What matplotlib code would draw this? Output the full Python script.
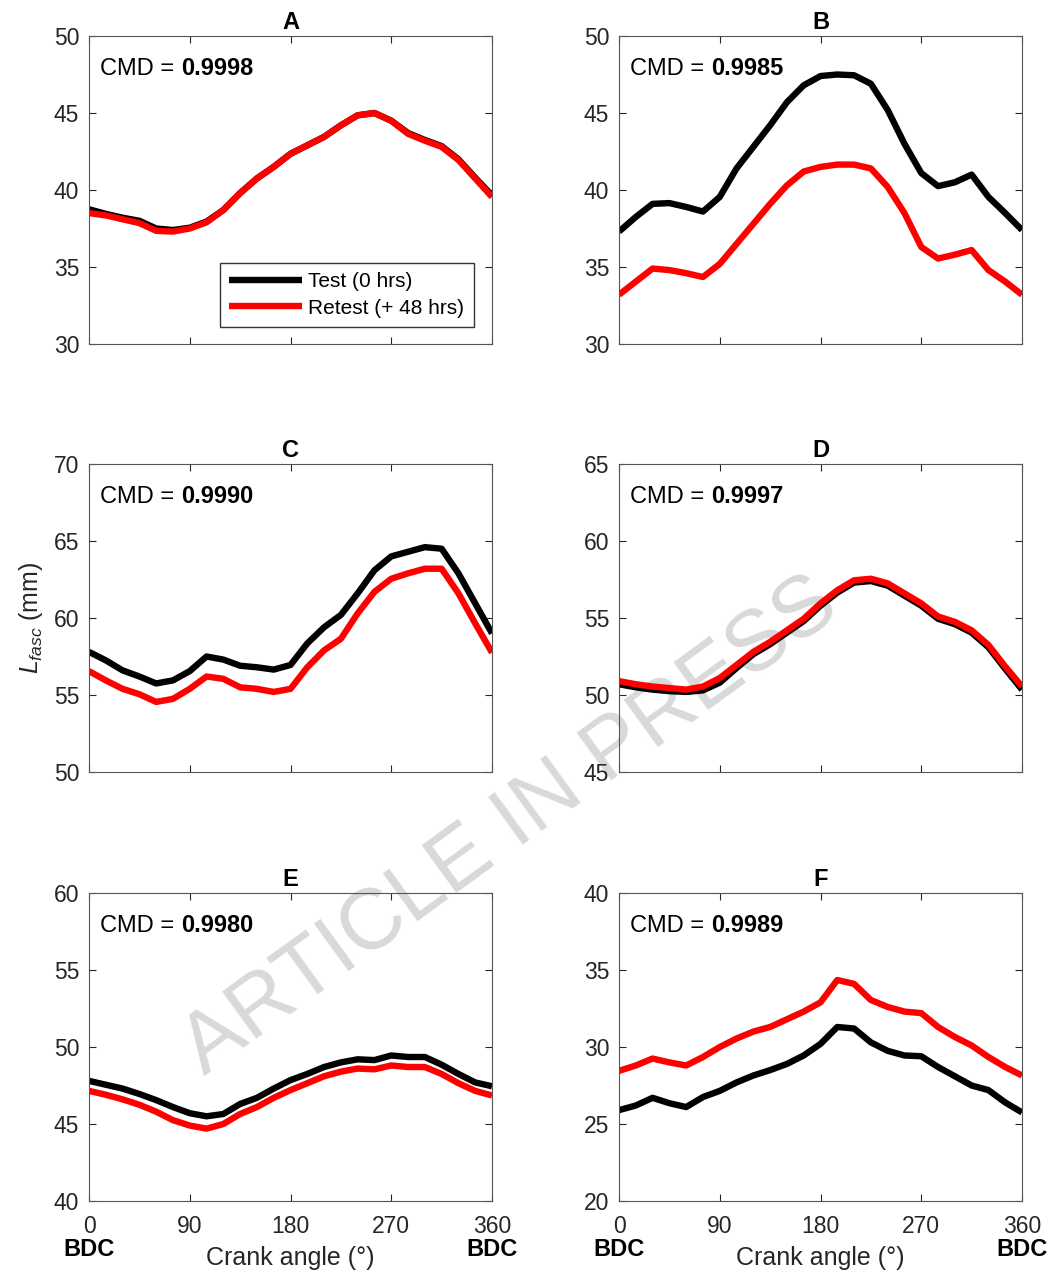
import matplotlib
matplotlib.use('Agg')
import matplotlib.pyplot as plt
import matplotlib.transforms as mtransforms

plt.rcParams['font.family'] = ['Liberation Sans', 'DejaVu Sans']
plt.rcParams['mathtext.fontset'] = 'custom'
plt.rcParams['mathtext.rm'] = 'Liberation Sans'
plt.rcParams['mathtext.it'] = 'Liberation Sans:italic'

# crank angle samples (deg)
angle = list(range(0, 361, 15))

# panel A
a_test = [38.75, 38.45, 38.2, 38.0, 37.5, 37.4, 37.55, 37.95, 38.7, 39.8, 40.75, 41.5, 42.35,
          42.9, 43.45, 44.2, 44.85, 45.0, 44.5, 43.7, 43.25, 42.85, 42.0, 40.8, 39.65]
a_retest = [38.5, 38.35, 38.1, 37.85, 37.35, 37.3, 37.5, 37.9, 38.7, 39.8, 40.75, 41.5, 42.35,
            42.9, 43.45, 44.2, 44.85, 45.0, 44.5, 43.65, 43.2, 42.8, 41.95, 40.75, 39.55]
# panel B
b_test = [37.3, 38.25, 39.1, 39.15, 38.9, 38.6, 39.55, 41.4, 42.8, 44.2, 45.7, 46.8, 47.4,
          47.5, 47.45, 46.9, 45.2, 43.0, 41.1, 40.25, 40.5, 41.0, 39.55, 38.5, 37.4]
b_retest = [33.2, 34.05, 34.9, 34.8, 34.6, 34.35, 35.2, 36.5, 37.8, 39.1, 40.3, 41.2, 41.5,
            41.65, 41.65, 41.4, 40.2, 38.5, 36.3, 35.55, 35.8, 36.1, 34.8, 34.05, 33.2]
# panel C
c_test = [57.8, 57.25, 56.6, 56.2, 55.75, 55.95, 56.55, 57.5, 57.3, 56.9, 56.8, 56.65, 56.95,
          58.35, 59.4, 60.2, 61.6, 63.1, 64.0, 64.3, 64.6, 64.5, 62.9, 60.95, 59.0]
c_retest = [56.55, 55.95, 55.4, 55.05, 54.55, 54.75, 55.4, 56.2, 56.05, 55.5, 55.4, 55.2, 55.4,
            56.8, 57.9, 58.65, 60.3, 61.7, 62.55, 62.9, 63.2, 63.2, 61.6, 59.65, 57.75]
# panel D
d_test = [50.7, 50.5, 50.35, 50.25, 50.2, 50.3, 50.8, 51.75, 52.65, 53.3, 54.05, 54.8, 55.8,
          56.65, 57.3, 57.4, 57.1, 56.45, 55.8, 54.95, 54.6, 54.05, 53.1, 51.7, 50.35]
d_retest = [50.9, 50.7, 50.55, 50.45, 50.35, 50.55, 51.1, 51.95, 52.8, 53.45, 54.2, 54.95, 55.95,
            56.8, 57.45, 57.55, 57.25, 56.6, 55.95, 55.1, 54.75, 54.2, 53.25, 51.85, 50.55]
# panel E
e_test = [47.8, 47.55, 47.3, 46.95, 46.55, 46.1, 45.7, 45.5, 45.65, 46.3, 46.7, 47.3, 47.85,
          48.25, 48.7, 49.0, 49.2, 49.15, 49.45, 49.35, 49.35, 48.85, 48.25, 47.7, 47.45]
e_retest = [47.15, 46.9, 46.6, 46.25, 45.8, 45.25, 44.9, 44.7, 45.0, 45.65, 46.1, 46.7, 47.2,
            47.65, 48.1, 48.4, 48.6, 48.55, 48.8, 48.7, 48.7, 48.25, 47.65, 47.15, 46.85]
# panel F
f_test = [25.9, 26.2, 26.7, 26.35, 26.1, 26.75, 27.15, 27.7, 28.15, 28.5, 28.9, 29.45, 30.2,
          31.3, 31.2, 30.3, 29.75, 29.45, 29.4, 28.7, 28.1, 27.5, 27.2, 26.4, 25.75]
f_retest = [28.45, 28.8, 29.25, 29.0, 28.8, 29.35, 30.0, 30.55, 31.0, 31.3, 31.8, 32.3, 32.9,
            34.35, 34.1, 33.05, 32.6, 32.3, 32.2, 31.3, 30.65, 30.1, 29.35, 28.7, 28.15]

titles = ['A', 'B', 'C', 'D', 'E', 'F']
cmd_values = ['0.9998', '0.9985', '0.9990', '0.9997', '0.9980', '0.9989']
ylims = [(30, 50), (30, 50), (50, 70), (45, 65), (40, 60), (20, 40)]
tests = [a_test, b_test, c_test, d_test, e_test, f_test]
retests = [a_retest, b_retest, c_retest, d_retest, e_retest, f_retest]

W, H = 1053, 1277
fig = plt.figure(figsize=(W / 100, H / 100), dpi=100)

lefts = [89, 619]
tops = [36, 464, 893]
aw, ah = 403, 308
gray = '#262626'

for i in range(6):
    r, c = divmod(i, 2)
    ax = fig.add_axes([lefts[c] / W, 1 - (tops[r] + ah) / H, aw / W, ah / H])
    ax.set_facecolor('none')
    ax.plot(angle, tests[i], color='black', lw=4.6, solid_joinstyle='round',
            solid_capstyle='butt', label='Test (0 hrs)')
    ax.plot(angle, retests[i], color='red', lw=4.6, solid_joinstyle='round',
            solid_capstyle='butt', label='Retest (+ 48 hrs)')
    lo, hi = ylims[i]
    ax.set_xlim(0, 360)
    ax.set_ylim(lo, hi)
    ax.set_xticks([0, 90, 180, 270, 360])
    ax.set_yticks(range(lo, hi + 1, 5))
    ax.tick_params(direction='in', top=True, right=True, length=5, width=0.8,
                   labelsize=16.5, colors=gray, pad=7)
    ax.tick_params(axis='x', pad=10)
    for sp in ax.spines.values():
        sp.set_color('#555555')
        sp.set_linewidth(0.8)
    ax.set_title(titles[i], fontsize=17, fontweight='bold', pad=5)
    t = ax.text(0.027, 0.893, 'CMD = ', transform=ax.transAxes, fontsize=17,
                va='center', ha='left')
    ax.annotate(cmd_values[i], xy=(1, 0), xycoords=t, va='bottom', ha='left',
                fontsize=17, fontweight='bold')
    if r < 2:
        ax.set_xticklabels([])
    else:
        trans = mtransforms.blended_transform_factory(ax.transData, ax.transAxes)
        for xb in (0, 360):
            ax.text(xb, -0.158, 'BDC', transform=trans, ha='center', va='center',
                    fontsize=17, fontweight='bold')
        ax.text(0.5, -0.186, 'Crank angle (°)', transform=ax.transAxes, ha='center',
                va='center', fontsize=18, color=gray)
    if i == 0:
        ax.legend(loc='lower right', bbox_to_anchor=(0.955, 0.055), borderaxespad=0,
                  fontsize=15, handlelength=3.5, handletextpad=0.3, fancybox=False,
                  edgecolor='#333333', framealpha=1, borderpad=0.45, labelspacing=0.35)
    if i == 2:
        ax.set_ylabel(r'$L_{fasc}$ (mm)', fontsize=18, color=gray, labelpad=6)

fig.text(0.485, 0.353, 'ARTICLE IN PRESS', fontsize=62, color='#d9d9d9', rotation=36,
         ha='center', va='center', zorder=-1)

fig.savefig('out.png', dpi=100)
